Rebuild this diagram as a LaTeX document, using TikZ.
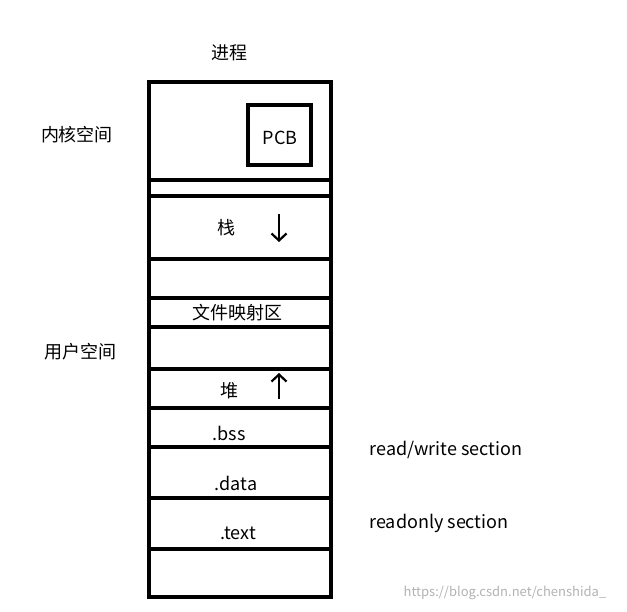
\documentclass[tikz,border=0pt]{standalone}
\usepackage{fontspec}
\setmainfont{Noto Sans CJK SC}
\usetikzlibrary{arrows.meta}
\begin{document}
\begin{tikzpicture}[x=1pt,y=-1pt,
  thick line/.style={line width=3.5pt},
  lbl/.style={font=\fontsize{18}{20}\selectfont,inner sep=0pt},
  arr/.style={line width=2.2pt,-{Straight Barb[length=7pt,width=15pt]}}]
\useasboundingbox (0,0) rectangle (627,611);
\node[lbl] (proc) at (229,53) {进程};
\node[lbl] (kern) at (77,135) {内核空间};
\node[lbl] (user) at (80,352) {用户空间};
\draw[thick line] (149,82) rectangle (331,597);
\foreach \y in {180,196,259,298,327,369,408,447,498,549}
  \draw[thick line] (149,\y) -- (333,\y);
\draw[thick line] (248,105) rectangle (311,165);
\node[lbl] (pcb) at (280,138) {PCB};
\node[lbl] (stack) at (226,228) {栈};
\coordinate (sa) at (279,214);
\coordinate (sb) at (279,242);
\draw[arr] (sa) -- (sb);
\node[lbl] (mmap) at (237,313) {文件映射区};
\node[lbl] (heap) at (229,391) {堆};
\coordinate (ha) at (279,399);
\coordinate (hb) at (279,373);
\draw[arr] (ha) -- (hb);
\node[lbl] (bss) at (229,433) {.bss};
\node[lbl] (data) at (236,483) {.data};
\node[lbl] (text) at (238,533) {.text};
\node[lbl] (rw) at (446,450) {read/write section};
\node[lbl] (ro) at (439,523) {readonly section};
\node[lbl,text=gray!60,font=\fontsize{13}{15}\selectfont] (wm) at (505,593) {https://blog.csdn.net/chenshida\_};
\end{tikzpicture}
\end{document}
